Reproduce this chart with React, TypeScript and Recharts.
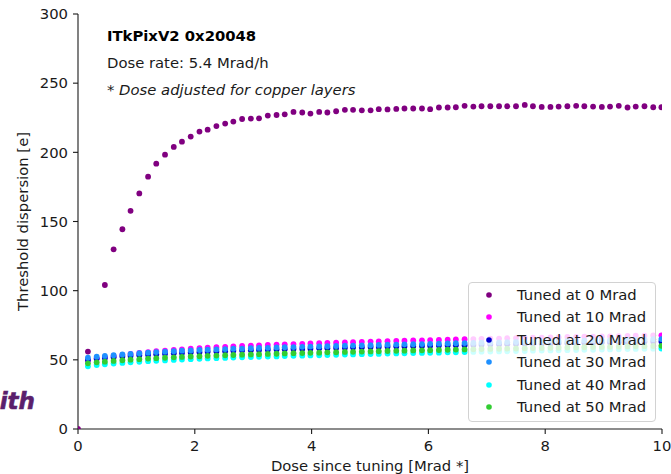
import React from 'react';
import { ScatterChart, Scatter, XAxis, YAxis, Legend, Label } from 'recharts';

// Dose since tuning [Mrad *] for each measurement
const doses = [
  0.17, 0.32, 0.46, 0.61, 0.76, 0.90, 1.05, 1.20, 1.34, 1.49,
  1.64, 1.78, 1.93, 2.08, 2.22, 2.37, 2.52, 2.66, 2.81, 2.96,
  3.10, 3.25, 3.40, 3.54, 3.69, 3.84, 3.98, 4.13, 4.27, 4.42,
  4.57, 4.71, 4.86, 5.01, 5.15, 5.30, 5.45, 5.59, 5.74, 5.89,
  6.03, 6.18, 6.33, 6.47, 6.62, 6.77, 6.91, 7.06, 7.21, 7.35,
  7.50, 7.65, 7.79, 7.94, 8.09, 8.23, 8.38, 8.53, 8.67, 8.82,
  8.97, 9.11, 9.26, 9.41, 9.55, 9.70, 9.85, 9.99,
];

// Tuned at 0 Mrad has an extra point at dose 0
const dosesTuned0 = [0, ...doses];
const tuned0: (number | null)[] = [
  0, 56.0, null,
  104.1, 129.9, 144.4, 157.7, 170.3, 182.4, 191.8, 198.3, 203.9, 207.7,
  211.4, 215.0, 216.4, 219.0, 220.8, 222.2, 224.1, 224.4, 224.6, 226.6,
  227.0, 227.5, 229.2, 228.8, 228.0, 229.2, 228.8, 229.7, 230.7, 230.7,
  230.4, 230.4, 231.2, 231.0, 231.4, 231.7, 231.7, 231.7, 231.2, 232.4,
  232.4, 232.6, 233.6, 233.1, 233.3, 233.3, 233.3, 233.3, 233.3, 234.3,
  233.3, 232.8, 232.8, 233.1, 233.3, 233.6, 233.3, 233.1, 232.8, 233.1,
  233.6, 232.4, 233.1, 233.3, 232.6, 232.6,
];

const tuned10 = [
  49.5, 51.0, 52.0, 52.8, 53.6, 54.3, 55.0, 55.6, 56.2, 56.7,
  57.2, 57.6, 58.0, 58.4, 58.8, 59.1, 59.4, 59.7, 60.0, 60.3,
  60.5, 60.8, 61.0, 61.2, 61.4, 61.6, 61.8, 62.0, 62.2, 62.4,
  62.6, 62.8, 63.0, 63.2, 63.3, 63.5, 63.7, 63.8, 64.0, 64.1,
  64.3, 64.4, 64.6, 64.7, 64.9, 65.0, 65.2, 65.3, 65.4, 65.6,
  65.7, 65.8, 66.0, 66.1, 66.2, 66.3, 66.5, 66.6, 66.7, 66.8,
  66.9, 67.0, 67.1, 67.3, 67.4, 67.5, 67.6, 67.7,
];

const tuned20 = [
  50.0, 50.8, 51.4, 51.9, 52.4, 52.8, 53.3, 53.7, 54.0, 54.4,
  54.7, 55.0, 55.3, 55.5, 55.8, 56.0, 56.2, 56.5, 56.7, 56.9,
  57.1, 57.3, 57.4, 57.6, 57.8, 57.9, 58.1, 58.3, 58.4, 58.6,
  58.7, 58.9, 59.0, 59.2, 59.3, 59.5, 59.6, 59.7, 59.9, 60.0,
  60.1, 60.3, 60.4, 60.5, 60.6, 60.8, 60.9, 61.0, 61.1, 61.2,
  61.4, 61.5, 61.6, 61.7, 61.8, 61.9, 62.0, 62.2, 62.3, 62.4,
  62.5, 62.6, 62.7, 62.8, 62.9, 63.0, 63.1, 63.2,
];

const tuned30 = [
  51.5, 52.3, 52.8, 53.3, 53.9, 54.3, 54.8, 55.2, 55.6, 55.9,
  56.2, 56.6, 56.8, 57.1, 57.3, 57.5, 57.8, 58.0, 58.1, 58.4,
  58.6, 58.7, 58.9, 59.1, 59.2, 59.4, 59.6, 59.7, 59.9, 60.0,
  60.2, 60.3, 60.5, 60.6, 60.8, 60.9, 61.0, 61.2, 61.3, 61.4,
  61.6, 61.7, 61.8, 62.0, 62.1, 62.2, 62.4, 62.5, 62.6, 62.8,
  62.9, 63.0, 63.1, 63.3, 63.4, 63.5, 63.6, 63.8, 63.9, 64.0,
  64.1, 64.2, 64.4, 64.5, 64.6, 64.7, 64.9, 65.0,
];

const tuned40 = [
  45.3, 46.2, 46.8, 47.3, 47.8, 48.2, 48.6, 49.0, 49.3, 49.6,
  49.9, 50.2, 50.5, 50.7, 51.0, 51.2, 51.4, 51.6, 51.8, 52.0,
  52.2, 52.4, 52.5, 52.7, 52.9, 53.0, 53.2, 53.3, 53.5, 53.6,
  53.8, 53.9, 54.1, 54.2, 54.3, 54.5, 54.6, 54.7, 54.9, 55.0,
  55.1, 55.2, 55.4, 55.5, 55.6, 55.7, 55.9, 56.0, 56.1, 56.2,
  56.3, 56.4, 56.6, 56.7, 56.8, 56.9, 57.0, 57.1, 57.2, 57.3,
  57.4, 57.5, 57.6, 57.8, 57.9, 58.0, 58.1, 58.2,
];

const tuned50 = [
  47.5, 48.2, 48.7, 49.2, 49.7, 50.1, 50.5, 50.9, 51.2, 51.5,
  51.8, 52.1, 52.4, 52.6, 52.9, 53.1, 53.3, 53.5, 53.7, 53.9,
  54.1, 54.3, 54.4, 54.6, 54.8, 54.9, 55.1, 55.2, 55.4, 55.5,
  55.7, 55.8, 56.0, 56.1, 56.2, 56.4, 56.5, 56.6, 56.8, 56.9,
  57.0, 57.1, 57.3, 57.4, 57.5, 57.6, 57.8, 57.9, 58.0, 58.1,
  58.2, 58.3, 58.5, 58.6, 58.7, 58.8, 58.9, 59.0, 59.1, 59.2,
  59.3, 59.4, 59.5, 59.7, 59.8, 59.9, 60.0, 60.1,
];

const seriesNames = [
  'Tuned at 0 Mrad', 'Tuned at 10 Mrad', 'Tuned at 20 Mrad',
  'Tuned at 30 Mrad', 'Tuned at 40 Mrad', 'Tuned at 50 Mrad',
];
const seriesColors = ['#800080', '#ff00ff', '#0000cd', '#1e90ff', '#00ffff', '#32cd32'];
const seriesX = [dosesTuned0, doses, doses, doses, doses, doses];
const seriesY: (number | null)[][] = [tuned0, tuned10, tuned20, tuned30, tuned40, tuned50];

const xTicks = [0, 2, 4, 6, 8, 10];
const yTicks = [0, 50, 100, 150, 200, 250, 300];

const FONT = '"DejaVu Sans", sans-serif';
const FS = 14.8;
const INK = '#1a1a1a';

const series = seriesNames.map((name, i) => ({
  name,
  color: seriesColors[i],
  data: seriesX[i]
    .map((x, j) => ({ x, y: seriesY[i][j] }))
    .filter((p) => p.y !== null && p.y !== undefined),
}));

const Dot = (color: string) => (props: any) => {
  if (props.cx == null || props.cy == null) return null;
  return <circle cx={props.cx} cy={props.cy} r={2.9} fill={color} stroke="none" />;
};

const LegendBox = () => (
  <div
    style={{
      boxSizing: 'border-box',
      width: 188,
      height: 140,
      border: '1px solid #d2d2d2',
      borderRadius: 4,
      background: 'rgba(255,255,255,0.8)',
      position: 'relative',
      fontFamily: FONT,
      fontSize: FS,
      color: INK,
    }}
  >
    {series.map((s, i) => (
      <div
        key={s.name}
        style={{
          position: 'absolute',
          left: 0,
          top: 1 + 22.4 * i,
          height: 22,
          width: 186,
          display: 'flex',
          alignItems: 'center',
        }}
      >
        <svg width={40} height={22} style={{ flex: 'none' }}>
          <circle cx={20} cy={11} r={2.8} fill={s.color} />
        </svg>
        <span style={{ marginLeft: 8, whiteSpace: 'nowrap', lineHeight: '22px' }}>{s.name}</span>
      </div>
    ))}
  </div>
);

export default function App() {
  return (
    <div style={{ position: 'relative', width: 671, height: 474, background: '#fff' }}>
      <style>{'body{margin:0;background:#fff}'}</style>
      <ScatterChart width={671} height={474} margin={{ top: 14, right: 9, bottom: 0, left: 0 }}>
        <XAxis
          type="number"
          dataKey="x"
          domain={[0, 10]}
          ticks={xTicks}
          allowDataOverflow
          height={45}
          tickSize={5}
          tickMargin={6}
          axisLine={{ stroke: INK, strokeWidth: 1.1 }}
          tickLine={{ stroke: INK, strokeWidth: 1.1 }}
          tick={{ fill: INK, fontSize: FS, fontFamily: FONT }}
        >
          <Label
            content={(p: any) => {
              const vb = p.viewBox || { x: 78, width: 584 };
              return (
                <text
                  x={vb.x + vb.width / 2}
                  y={471}
                  textAnchor="middle"
                  fill={INK}
                  fontSize={FS}
                  fontFamily={FONT}
                >
                  Dose since tuning [Mrad *]
                </text>
              );
            }}
          />
        </XAxis>
        <YAxis
          type="number"
          dataKey="y"
          domain={[0, 300]}
          ticks={yTicks}
          allowDataOverflow
          width={78}
          tickSize={5}
          tickMargin={5}
          axisLine={{ stroke: INK, strokeWidth: 1.1 }}
          tickLine={{ stroke: INK, strokeWidth: 1.1 }}
          tick={{ fill: INK, fontSize: FS, fontFamily: FONT }}
        >
          <Label
            content={(p: any) => {
              const vb = p.viewBox || { y: 14, height: 415 };
              const cy = vb.y + vb.height / 2;
              return (
                <text
                  x={27.5}
                  y={cy}
                  transform={`rotate(-90 27.5 ${cy})`}
                  textAnchor="middle"
                  fill={INK}
                  fontSize={FS}
                  fontFamily={FONT}
                >
                  Threshold dispersion [e]
                </text>
              );
            }}
          />
        </YAxis>
        <XAxis
          xAxisId="top"
          orientation="top"
          type="number"
          domain={[0, 10]}
          height={0}
          tick={false}
          tickLine={false}
          axisLine={{ stroke: INK, strokeWidth: 1.1 }}
        />
        <YAxis
          yAxisId="right"
          orientation="right"
          type="number"
          domain={[0, 300]}
          width={0}
          tick={false}
          tickLine={false}
          axisLine={{ stroke: INK, strokeWidth: 1.1 }}
        />
        {series.map((s) => (
          <Scatter
            key={s.name}
            name={s.name}
            data={s.data}
            fill={s.color}
            shape={Dot(s.color)}
            isAnimationActive={false}
          />
        ))}
        <Legend
          layout="vertical"
          align="center"
          verticalAlign="middle"
          wrapperStyle={{ left: 468, top: 282, width: 188, height: 140 }}
          content={() => <LegendBox />}
        />
      </ScatterChart>
      <svg
        width={671}
        height={474}
        style={{ position: 'absolute', left: 0, top: 0, pointerEvents: 'none' }}
      >
        <text x={107} y={41} fontFamily={FONT} fontSize={FS} fontWeight="bold" fill="#000">
          ITkPixV2 0x20048
        </text>
        <text x={107} y={68} fontFamily={FONT} fontSize={FS} fill={INK}>
          Dose rate: 5.4 Mrad/h
        </text>
        <text x={107} y={95} fontFamily={FONT} fontSize={FS} fontStyle="italic" fill={INK}>
          * Dose adjusted for copper layers
        </text>
        <text
          x={35}
          y={409}
          textAnchor="end"
          fontFamily={FONT}
          fontSize={23}
          fontWeight="bold"
          fontStyle="italic"
          fill="#5a1f6c"
          stroke="#5a1f6c"
          strokeWidth={0.6}
        >
          ith
        </text>
      </svg>
    </div>
  );
}
